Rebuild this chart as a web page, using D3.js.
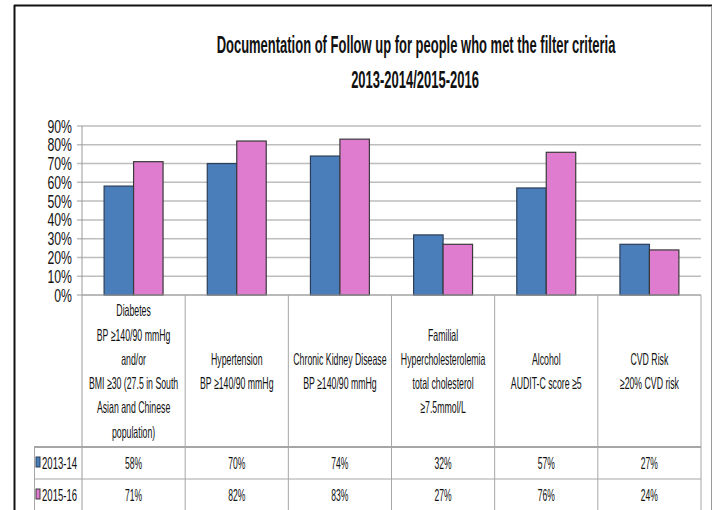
<!DOCTYPE html>
<html>
<head>
<meta charset="utf-8">
<script src="https://cdn.jsdelivr.net/npm/d3@7"></script>
<style>
  html, body { margin: 0; padding: 0; background: #fff; }
  svg { display: block; font-family: "Liberation Sans", Arial, sans-serif; }
</style>
</head>
<body>
<svg id="chart" width="714" height="510"></svg>
<script>
// data
const categories = [
  ["Diabetes", "BP \u2265140/90 mmHg", "and/or", "BMI \u226530 (27.5 in South", "Asian and Chinese", "population)"],
  ["Hypertension", "BP \u2265140/90 mmHg"],
  ["Chronic Kidney Disease", "BP \u2265140/90 mmHg"],
  ["Familial", "Hypercholesterolemia", "total cholesterol", "\u22657.5mmol/L"],
  ["Alcohol", "AUDIT-C score \u22655"],
  ["CVD Risk", "\u226520% CVD risk"]
];
const seriesNames = ["2013-14", "2015-16"];
const values1314 = [58, 70, 74, 32, 57, 27];
const values1516 = [71, 82, 83, 27, 76, 24];
const yTicks = [0, 10, 20, 30, 40, 50, 60, 70, 80, 90];
const titleLines = ["Documentation of Follow up for people who met the filter criteria", "2013-2014/2015-2016"];

const colors = ["#4A7EBB", "#DF7CCF"];
const strokes = ["#2C3E57", "#3A3A3A"];

const svg = d3.select("#chart");

// plot box
const plotL = 82, plotR = 701, plotT = 126, base = 295;
const rowTop = 447, rowMid = 479;

const x0 = d3.scaleBand().domain(d3.range(categories.length)).range([plotL, plotR]).padding(0);
const x1 = d3.scaleBand().domain(seriesNames).range([0, x0.bandwidth()]).paddingInner(0).paddingOuter(0.75);
const y = d3.scaleLinear().domain([0, 90]).range([base, plotT]);

// condensed text helper (the source font is very narrow)
function ctext(g, x, yy, str, size, sx, anchor, weight) {
  const t = g.append("g").attr("transform", `translate(${x},${yy}) scale(${sx},1)`)
    .append("text")
    .attr("text-anchor", anchor || "middle")
    .attr("font-size", size)
    .attr("fill", "#111")
    .text(str);
  if (weight) t.attr("font-weight", weight);
  return t;
}

// outer frame
svg.append("line").attr("x1", 14).attr("x2", 712).attr("y1", 5.5).attr("y2", 5.5)
  .attr("stroke", "#111").attr("stroke-width", 2);
svg.append("line").attr("x1", 14.5).attr("x2", 14.5).attr("y1", 5).attr("y2", 510)
  .attr("stroke", "#111").attr("stroke-width", 2);
svg.append("line").attr("x1", 711.5).attr("x2", 711.5).attr("y1", 6).attr("y2", 510)
  .attr("stroke", "#9a9a9a").attr("stroke-width", 1);

// title
const tg = svg.append("g");
ctext(tg, 416, 53, titleLines[0], 23, 0.565, "middle", "bold");
ctext(tg, 415, 88, titleLines[1], 23, 0.565, "middle", "bold");

// gridlines
svg.append("g").selectAll("line").data(yTicks).join("line")
  .attr("x1", 77).attr("x2", plotR)
  .attr("y1", d => y(d)).attr("y2", d => y(d))
  .attr("stroke", "#bdbdbd").attr("stroke-width", 1.5);

// y labels
const yl = svg.append("g");
yTicks.forEach(d => ctext(yl, 72, y(d) + 6.5, d + "%", 17.5, 0.7, "end"));

// bars
const series = [values1314, values1516];
const bars = svg.append("g");
series.forEach((vals, s) => {
  bars.selectAll(null).data(vals).join("rect")
    .attr("x", (d, i) => x0(i) + x1(seriesNames[s]))
    .attr("y", d => y(d))
    .attr("width", x1.bandwidth())
    .attr("height", d => base - y(d))
    .attr("fill", colors[s])
    .attr("stroke", strokes[s])
    .attr("stroke-width", 1.2);
});

// table lines
const lines = svg.append("g").attr("stroke", "#a6a6a6").attr("stroke-width", 1);
lines.append("line").attr("x1", plotL).attr("x2", plotL).attr("y1", plotT).attr("y2", 510).attr("stroke", "#9a9a9a");
lines.append("line").attr("x1", plotL).attr("x2", plotR).attr("y1", base).attr("y2", base);
x0.domain().forEach(i => {
  const xr = x0(i) + x0.bandwidth();
  lines.append("line").attr("x1", xr).attr("x2", xr).attr("y1", base).attr("y2", 510);
});
lines.append("line").attr("x1", 34).attr("x2", plotR).attr("y1", rowTop).attr("y2", rowTop).attr("stroke-width", 2);
lines.append("line").attr("x1", 34).attr("x2", plotR).attr("y1", rowMid).attr("y2", rowMid);
lines.append("line").attr("x1", 34.5).attr("x2", 34.5).attr("y1", rowTop).attr("y2", 510);

// category labels
const cl = svg.append("g");
categories.forEach((lab, i) => {
  const cx = x0(i) + x0.bandwidth() / 2;
  const lh = 24.3;
  const y0 = (base + rowTop) / 2 - (lab.length - 1) * lh / 2 + 6;
  lab.forEach((s, k) => ctext(cl, cx, y0 + k * lh, s, 16.5, 0.53));
});

// data rows
const rows = svg.append("g");
series.forEach((vals, s) => {
  const ry = s === 0 ? (rowTop + rowMid) / 2 : rowMid + 16;
  rows.append("rect").attr("x", 36).attr("y", ry - 6).attr("width", 4).attr("height", 10)
    .attr("fill", colors[s]).attr("stroke", strokes[s]).attr("stroke-width", 1);
  ctext(rows, 42, ry + 6, seriesNames[s], 16.5, 0.58, "start");
  vals.forEach((v, i) => ctext(rows, x0(i) + x0.bandwidth() / 2, ry + 6, v + "%", 16.5, 0.52));
});
</script>
</body>
</html>
